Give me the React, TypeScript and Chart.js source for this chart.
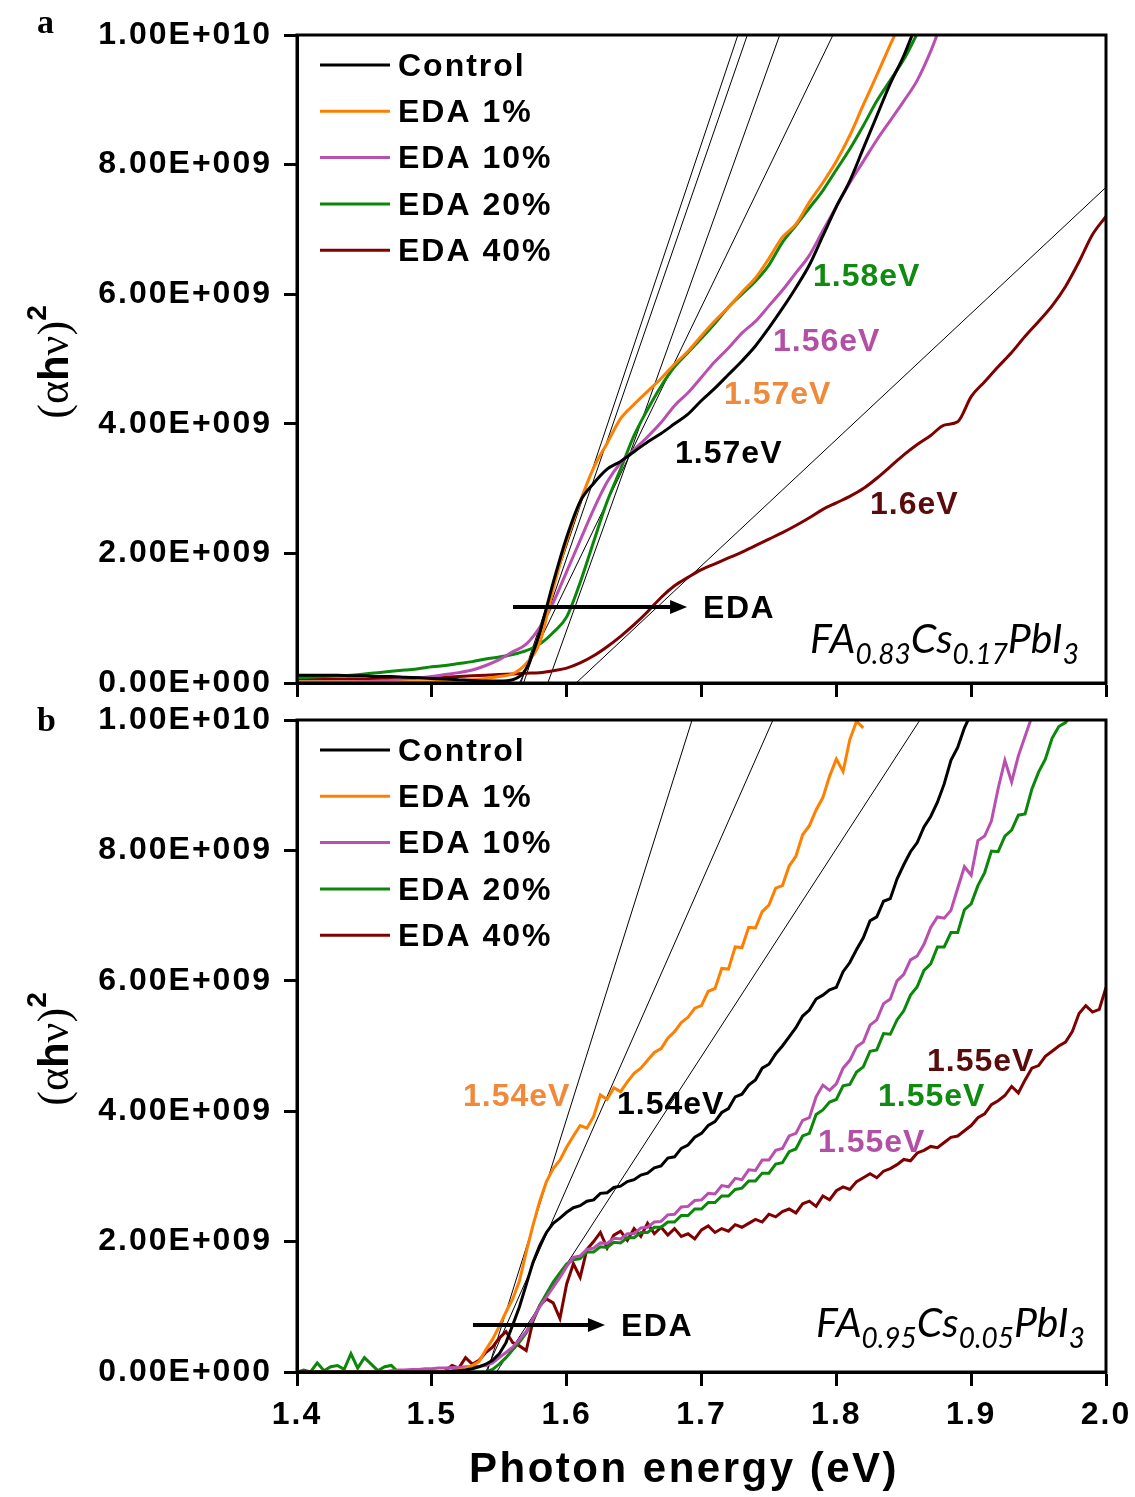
import React, { useEffect, useRef } from "react";
import { Chart, registerables } from "chart.js";

Chart.register(...registerables);

const SANS = "'Liberation Sans', Arial, sans-serif";
const SERIF = "'Liberation Serif', 'Times New Roman', serif";
const ITALIC = "Lato, 'Open Sans', sans-serif";

const seriesNames = ["Control", "EDA 1%", "EDA 10%", "EDA 20%", "EDA 40%"];
const seriesColors = ["#000000", "#ff7f00", "#b94fb1", "#0b870b", "#7f0000"];
const labelColors = ["#000000", "#ef8a3c", "#b44fa6", "#118a11", "#5a0c0c"];

// photon energy grids (eV)
const energyA = Array.from({ length: 61 }, (_, i) => (140 + i) / 100); // 0.01 eV
const energyB = Array.from({ length: 121 }, (_, i) => (1400 + 5 * i) / 1000); // 0.005 eV

// panel a, (αhν)² in units of 1e9, one row per 0.1 eV
const controlA = [
  0.12, 0.12, 0.12, 0.12, 0.11, 0.11, 0.1, 0.1, 0.09, 0.08,
  0.07, 0.06, 0.05, 0.04, 0.03, 0.03, 0.05, 0.22, 0.78, 1.55,
  2.25, 2.8, 3.08, 3.3, 3.42, 3.57, 3.72, 3.85, 4.0, 4.15,
  4.36, 4.55, 4.76, 4.97, 5.2, 5.48, 5.78, 6.1, 6.45, 6.9,
  7.35, 7.75, 8.25, 8.75, 9.25, 9.68, 10.2, null, null, null,
  null, null, null, null, null, null, null, null, null, null,
  null,
];
const eda1A = [
  0.01, 0.01, 0.01, 0.01, 0.01, 0.01, 0.01, 0.01, 0.02, 0.02,
  0.02, 0.03, 0.04, 0.05, 0.07, 0.1, 0.14, 0.3, 0.62, 1.45,
  2.19, 2.8, 3.32, 3.7, 4.08, 4.3, 4.5, 4.7, 4.92, 5.12,
  5.36, 5.59, 5.8, 6.03, 6.25, 6.55, 6.88, 7.08, 7.42, 7.72,
  8.05, 8.45, 8.92, 9.38, 9.85, 10.3, null, null, null, null,
  null, null, null, null, null, null, null, null, null, null,
  null,
];
const eda10A = [
  0, 0, 0, 0, 0.01, 0.02, 0.03, 0.04, 0.06, 0.08,
  0.1, 0.13, 0.16, 0.2, 0.27, 0.36, 0.48, 0.6, 0.86, 1.24,
  1.72, 2.2, 2.68, 3.1, 3.4, 3.6, 3.8, 4.02, 4.28, 4.48,
  4.72, 4.96, 5.17, 5.4, 5.58, 5.82, 6.06, 6.33, 6.6, 6.98,
  7.35, 7.72, 8.05, 8.38, 8.68, 8.98, 9.3, 9.75, 10.3, null,
  null, null, null, null, null, null, null, null, null, null,
  null,
];
const eda20A = [
  0.08, 0.09, 0.1, 0.11, 0.12, 0.14, 0.16, 0.18, 0.2, 0.22,
  0.25, 0.27, 0.3, 0.33, 0.37, 0.4, 0.44, 0.5, 0.6, 0.78,
  1.02, 1.55, 2.18, 2.8, 3.3, 3.82, 4.22, 4.58, 4.88, 5.1,
  5.32, 5.55, 5.8, 6.0, 6.2, 6.45, 6.8, 7.06, 7.33, 7.6,
  7.92, 8.24, 8.6, 8.98, 9.3, 9.62, 10.02, 10.4, null, null,
  null, null, null, null, null, null, null, null, null, null,
  null,
];
const eda40A = [
  0.06, 0.06, 0.06, 0.06, 0.06, 0.06, 0.07, 0.07, 0.07, 0.08,
  0.08, 0.09, 0.1, 0.11, 0.12, 0.13, 0.14, 0.15, 0.16, 0.19,
  0.23, 0.31, 0.42, 0.56, 0.72, 0.9, 1.1, 1.32, 1.5, 1.63,
  1.75, 1.84, 1.93, 2.02, 2.12, 2.22, 2.32, 2.43, 2.55, 2.68,
  2.78, 2.88, 3.0, 3.16, 3.34, 3.52, 3.68, 3.82, 3.98, 4.03,
  4.42, 4.65, 4.88, 5.1, 5.35, 5.58, 5.82, 6.12, 6.5, 6.92,
  7.2,
];

// panel b, (αhν)² in units of 1e9, one row per 0.05 eV
const controlB = [
  0, 0, 0, 0, 0, 0, 0, 0, 0, 0,
  0, 0, 0, 0, 0, 0, 0, 0, 0, 0,
  0, 0, 0, 0.01, 0.02, 0.03, 0.05, 0.08, 0.12, 0.18,
  0.28, 0.45, 0.72, 1.0, 1.34, 1.68, 1.94, 2.14, 2.28, 2.36,
  2.45, 2.52, 2.55, 2.62, 2.64, 2.74, 2.75, 2.83, 2.85, 2.92,
  2.95, 3.02, 3.05, 3.13, 3.16, 3.28, 3.3, 3.43, 3.48, 3.6,
  3.66, 3.78, 3.84, 3.98, 4.04, 4.22, 4.26, 4.4, 4.48, 4.66,
  4.72, 4.88, 5.0, 5.14, 5.28, 5.46, 5.55, 5.72, 5.78, 5.86,
  5.9, 6.14, 6.28, 6.48, 6.66, 6.92, 6.98, 7.22, 7.26, 7.56,
  7.78, 7.98, 8.12, 8.36, 8.52, 8.74, 9.02, 9.38, 9.58, 9.88,
  10.1, null, null, null, null, null, null, null, null, null,
  null, null, null, null, null, null, null, null, null, null,
  null,
];
const eda1B = [
  0, 0, 0, 0, 0, 0, 0, 0, 0, 0,
  0, 0, 0, 0, 0, 0, 0, 0, 0, 0,
  0, 0, 0.01, 0.02, 0.03, 0.06, 0.1, 0.16, 0.34, 0.5,
  0.7, 0.92, 1.12, 1.4, 1.84, 2.25, 2.62, 2.92, 3.12, 3.25,
  3.45, 3.62, 3.78, 3.74, 3.92, 4.25, 4.18, 4.36, 4.3, 4.45,
  4.58, 4.66, 4.78, 4.9, 4.96, 5.12, 5.22, 5.36, 5.44, 5.58,
  5.62, 5.84, 5.88, 6.19, 6.18, 6.52, 6.51, 6.82, 6.81, 7.06,
  7.16, 7.42, 7.46, 7.76, 7.91, 8.24, 8.38, 8.62, 8.81, 9.14,
  9.4, 9.21, 9.7, 9.98, 9.88, null, null, null, null, null,
  null, null, null, null, null, null, null, null, null, null,
  null, null, null, null, null, null, null, null, null, null,
  null, null, null, null, null, null, null, null, null, null,
  null,
];
const eda10B = [
  0, 0, 0, 0, 0, 0, 0, 0, 0, 0,
  0, 0, 0, 0, 0.02, 0.03, 0.03, 0.04, 0.04, 0.05,
  0.05, 0.06, 0.06, 0.07, 0.07, 0.08, 0.08, 0.09, 0.1, 0.14,
  0.22, 0.3, 0.38, 0.5, 0.62, 0.82, 1.0, 1.15, 1.3, 1.45,
  1.62, 1.76, 1.78, 1.88, 1.9, 1.98, 1.97, 2.05, 2.04, 2.12,
  2.12, 2.21, 2.22, 2.3, 2.31, 2.41, 2.42, 2.53, 2.54, 2.63,
  2.64, 2.74, 2.73, 2.86, 2.84, 2.97, 2.95, 3.1, 3.09, 3.25,
  3.25, 3.4, 3.43, 3.62, 3.66, 3.86, 3.9, 4.22, 4.4, 4.32,
  4.42, 4.66, 4.78, 4.99, 5.06, 5.32, 5.4, 5.65, 5.72, 6.0,
  6.1, 6.32, 6.38, 6.56, 6.82, 6.98, 6.96, 7.08, 7.42, 7.75,
  7.62, 8.15, 8.22, 8.45, 8.95, 9.38, 9.05, 9.45, 9.75, 10.05,
  null, null, null, null, null, null, null, null, null, null,
  null,
];
const eda20B = [
  0, 0.03, 0, 0.14, 0.02, 0.08, 0.1, 0.04, 0.28, 0.06,
  0.22, 0.12, 0.02, 0.08, 0.1, 0, 0, 0, 0, 0,
  0, 0, 0, 0, 0, 0, 0, 0, 0, 0.04,
  0.12, 0.22, 0.34, 0.46, 0.6, 0.8, 1.02, 1.2, 1.38, 1.52,
  1.66, 1.72, 1.74, 1.84, 1.84, 1.92, 1.91, 1.99, 1.98, 2.06,
  2.06, 2.14, 2.14, 2.22, 2.22, 2.3, 2.3, 2.4, 2.4, 2.5,
  2.5, 2.6, 2.6, 2.7, 2.7, 2.8, 2.82, 2.93, 2.93, 3.05,
  3.05, 3.19, 3.21, 3.38, 3.42, 3.62, 3.66, 3.95, 4.02, 4.14,
  4.18, 4.39, 4.41, 4.6, 4.68, 4.92, 4.94, 5.19, 5.18, 5.4,
  5.54, 5.78, 5.91, 6.16, 6.26, 6.52, 6.52, 6.74, 6.74, 7.09,
  7.18, 7.46, 7.66, 7.99, 7.98, 8.22, 8.31, 8.54, 8.56, 8.94,
  9.2, 9.4, 9.72, 9.9, 9.96, 10.1, null, null, null, null,
  null,
];
const eda40B = [
  null, null, null, null, null, null, null, null, null, null,
  null, null, null, null, null, null, null, null, null, null,
  null, null, 0.02, 0.1, 0.06, 0.22, 0.12, 0.18, 0.3, 0.38,
  0.52, 0.62, 0.45, 0.4, 0.33, 0.78, 1.02, 1.12, 1.06, 0.82,
  1.35, 1.66, 1.45, 1.88, 2.0, 2.14, 1.9, 2.1, 2.16, 2.02,
  2.2, 2.08, 2.28, 2.12, 2.22, 2.1, 2.2, 2.08, 2.12, 2.04,
  2.18, 2.24, 2.14, 2.2, 2.16, 2.26, 2.22, 2.28, 2.34, 2.3,
  2.42, 2.38, 2.46, 2.5, 2.44, 2.58, 2.62, 2.54, 2.7, 2.64,
  2.78, 2.84, 2.8, 2.92, 2.98, 3.04, 2.98, 3.08, 3.12, 3.18,
  3.26, 3.24, 3.36, 3.4, 3.46, 3.44, 3.52, 3.6, 3.62, 3.7,
  3.78, 3.9, 3.96, 4.1, 4.16, 4.24, 4.38, 4.28, 4.48, 4.66,
  4.7, 4.84, 4.92, 5.0, 5.06, 5.22, 5.5, 5.62, 5.52, 5.56,
  5.9,
];

// linear fits: x-intercept (band gap), end point of the drawn line
const fitGapA = [1.566, 1.568, 1.565, 1.586, 1.607];
const fitEndA = [1.727, 1.734, 1.7975, 1.758, 2.0];
const fitEndValA = [10, 10, 10, 10, 7.65];
const fitGapB = [1.54, 1.541, 1.548];
const fitEndB = [1.753, 1.693, 1.862];
const fitEndValB = [10, 10, 10];

// band gap labels per series, anchored at [energy, value]
const gapTextA = ["1.57eV", "1.57eV", "1.56eV", "1.58eV", "1.6eV"];
const gapPosA = [[1.6804, 3.565], [1.7167, 4.475], [1.753, 5.29], [1.7827, 6.3], [1.825, 2.78]];
const gapTextB = ["1.54eV", "1.54eV", "1.55eV", "1.55eV", "1.55eV"];
const gapPosB = [[1.6373, 4.13], [1.5231, 4.25], [1.7864, 3.54], [1.8309, 4.25], [1.8672, 4.785]];

const formulaA = ["FA", "0.83", "Cs", "0.17", "PbI", "3"];
const formulaB = ["FA", "0.95", "Cs", "0.05", "PbI", "3"];

const sci = (v: number) => {
  if (v === 0) return "0.00E+000";
  const e = Math.floor(Math.log10(v) + 1e-9);
  return (v / Math.pow(10, e)).toFixed(2) + "E+" + String(e).padStart(3, "0");
};

type PanelSpec = {
  energy: number[];
  curves: (number | null)[][];
  smooth: boolean;
  fitGap: number[];
  fitEnd: number[];
  fitEndVal: number[];
  gapText: string[];
  gapPos: number[][];
  arrow: number[];
  formula: string[];
  formulaPos: number[];
  letter: string;
  letterY: number;
  showX: boolean;
  canvasTop: number;
  canvasHeight: number;
  padTop: number;
  xAxisHeight: number;
};

const panelA: PanelSpec = {
  energy: energyA,
  curves: [controlA, eda1A, eda10A, eda20A, eda40A],
  smooth: true,
  fitGap: fitGapA,
  fitEnd: fitEndA,
  fitEndVal: fitEndValA,
  gapText: gapTextA,
  gapPos: gapPosA,
  arrow: [1.5602, 1.6893, 1.173],
  formula: formulaA,
  formulaPos: [1.7805, 0.463],
  letter: "a",
  letterY: 33,
  showX: false,
  canvasTop: 0,
  canvasHeight: 705,
  padTop: 35,
  xAxisHeight: 22,
};

const panelB: PanelSpec = {
  energy: energyB,
  curves: [controlB, eda1B, eda10B, eda20B, eda40B],
  smooth: false,
  fitGap: fitGapB,
  fitEnd: fitEndB,
  fitEndVal: fitEndValB,
  gapText: gapTextB,
  gapPos: gapPosB,
  arrow: [1.5305, 1.6284, 0.72],
  formula: formulaB,
  formulaPos: [1.785, 0.537],
  letter: "b",
  letterY: 31,
  showX: true,
  canvasTop: 700,
  canvasHeight: 797,
  padTop: 20,
  xAxisHeight: 125,
};

const tickFont = { family: SANS, size: 32, weight: "bold" as const };

function Panel({ spec }: { spec: PanelSpec }) {
  const ref = useRef<HTMLCanvasElement>(null);

  useEffect(() => {
    if (!ref.current) return;

    const curves = spec.curves.map((vals, i) => ({
      label: seriesNames[i],
      data: spec.energy.map((e, j) => ({ x: e, y: vals[j] == null ? null : (vals[j] as number) * 1e9 })),
      borderColor: seriesColors[i],
      borderWidth: 3,
      pointRadius: 0,
      fill: false,
      tension: 0,
      cubicInterpolationMode: spec.smooth ? "monotone" : "default",
    }));
    const fits = spec.fitGap.map((g, i) => ({
      label: "fit",
      data: [
        { x: g, y: 0 },
        { x: spec.fitEnd[i], y: spec.fitEndVal[i] * 1e9 },
      ],
      borderColor: "#000000",
      borderWidth: 1,
      pointRadius: 0,
      fill: false,
    }));

    const decor = {
      id: "decor",
      beforeDraw(chart: any) {
        chart.ctx.letterSpacing = "2px";
      },
      afterDraw(chart: any) {
        const { ctx, chartArea: a, scales } = chart;
        const px = (e: number) => scales.x.getPixelForValue(e);
        const py = (v: number) => scales.y.getPixelForValue(v * 1e9);
        ctx.save();

        // frame
        ctx.strokeStyle = "#000";
        ctx.lineWidth = 3;
        ctx.strokeRect(a.left, a.top, a.right - a.left, a.bottom - a.top);

        // legend
        ctx.font = `bold 32px ${SANS}`;
        ctx.textAlign = "left";
        ctx.textBaseline = "middle";
        ctx.letterSpacing = "2px";
        seriesNames.forEach((name, i) => {
          const y = a.top + 30 + i * 46.3;
          ctx.strokeStyle = seriesColors[i];
          ctx.lineWidth = 3;
          ctx.beginPath();
          ctx.moveTo(a.left + 23, y);
          ctx.lineTo(a.left + 93, y);
          ctx.stroke();
          ctx.fillStyle = "#000";
          ctx.fillText(name, a.left + 101, y + 2);
        });

        // band gap labels
        ctx.letterSpacing = "1px";
        spec.gapText.forEach((t, i) => {
          ctx.fillStyle = labelColors[i];
          ctx.fillText(t, px(spec.gapPos[i][0]), py(spec.gapPos[i][1]) + 2);
        });

        // arrow + EDA
        const [e1, e2, av] = spec.arrow;
        const ay = py(av);
        const x1 = px(e1);
        const x2 = px(e2);
        ctx.strokeStyle = "#000";
        ctx.fillStyle = "#000";
        ctx.lineWidth = 4;
        ctx.beginPath();
        ctx.moveTo(x1, ay);
        ctx.lineTo(x2 - 14, ay);
        ctx.stroke();
        ctx.beginPath();
        ctx.moveTo(x2, ay);
        ctx.lineTo(x2 - 17, ay - 7);
        ctx.lineTo(x2 - 17, ay + 7);
        ctx.closePath();
        ctx.fill();
        ctx.letterSpacing = "1.5px";
        ctx.fillText("EDA", x2 + 16, ay + 2);

        // composition
        ctx.letterSpacing = "0px";
        ctx.textBaseline = "alphabetic";
        let fx = px(spec.formulaPos[0]);
        const fy = py(spec.formulaPos[1]);
        spec.formula.forEach((p, i) => {
          const sub = i % 2 === 1;
          ctx.font = sub ? `italic 28px ${ITALIC}` : `italic 41px ${ITALIC}`;
          ctx.fillText(p, fx, sub ? fy + 11 : fy);
          fx += ctx.measureText(p).width;
        });

        // y axis title (αhν)²
        const parts = [
          { t: "(", f: `44px ${SERIF}`, r: 0 },
          { t: "α", f: `44px ${SERIF}`, r: 0 },
          { t: "h", f: `bold 42px ${SANS}`, r: 0 },
          { t: "ν", f: `44px ${SERIF}`, r: 0 },
          { t: ")", f: `44px ${SERIF}`, r: 0 },
          { t: "2", f: `bold 28px ${SANS}`, r: 22 },
        ];
        let total = 0;
        parts.forEach((p) => {
          ctx.font = p.f;
          total += ctx.measureText(p.t).width;
        });
        ctx.save();
        ctx.translate(68, (a.top + a.bottom) / 2 + 3);
        ctx.rotate(-Math.PI / 2);
        let u = -total / 2;
        parts.forEach((p) => {
          ctx.font = p.f;
          ctx.fillText(p.t, u, -p.r);
          u += ctx.measureText(p.t).width;
        });
        ctx.restore();

        // panel letter
        ctx.font = `bold 34px ${SERIF}`;
        ctx.fillText(spec.letter, 37, spec.letterY);

        // x axis title
        if (spec.showX) {
          ctx.font = `bold 42px ${SANS}`;
          ctx.letterSpacing = "2.5px";
          ctx.textAlign = "center";
          ctx.textBaseline = "middle";
          ctx.fillText("Photon energy (eV)", 684, a.bottom + 98);
        }
        ctx.restore();
      },
    };

    const chart = new Chart(ref.current, {
      type: "line",
      data: { datasets: [...curves, ...fits] as any },
      options: {
        animation: false,
        responsive: false,
        events: [],
        layout: { padding: { top: spec.padTop, right: 29, left: 0, bottom: 0 } },
        plugins: { legend: { display: false }, tooltip: { enabled: false } },
        scales: {
          x: {
            type: "linear",
            min: 1.4,
            max: 2.0,
            afterFit: (s: any) => {
              s.height = spec.xAxisHeight;
              s.paddingLeft = 0;
              s.paddingRight = 0;
            },
            ticks: {
              display: spec.showX,
              stepSize: 0.1,
              autoSkip: false,
              maxRotation: 0,
              padding: 10,
              color: "#000",
              font: tickFont,
              callback: (v: any) => Number(v).toFixed(1),
            },
            grid: { drawOnChartArea: false, drawTicks: true, tickLength: 14, tickWidth: 3, tickColor: "#000", color: "#000" },
            border: { display: true, width: 3, color: "#000" },
          },
          y: {
            min: 0,
            max: 1e10,
            afterFit: (s: any) => {
              s.width = 297;
              s.paddingTop = 0;
              s.paddingBottom = 0;
            },
            ticks: {
              stepSize: 2e9,
              padding: 12,
              color: "#000",
              font: tickFont,
              callback: (v: any) => sci(Number(v)),
            },
            grid: { drawOnChartArea: false, drawTicks: true, tickLength: 13, tickWidth: 3, tickColor: "#000", color: "#000" },
            border: { display: true, width: 3, color: "#000" },
          },
        },
      },
      plugins: [decor],
    } as any);

    return () => {
      chart.destroy();
    };
  }, [spec]);

  return (
    <canvas
      ref={ref}
      width={1135}
      height={spec.canvasHeight}
      style={{ position: "absolute", left: 0, top: spec.canvasTop, width: 1135, height: spec.canvasHeight }}
    />
  );
}

export default function App() {
  return (
    <div style={{ position: "absolute", left: 0, top: 0, width: 1135, height: 1497, background: "#fff" }}>
      <Panel spec={panelA} />
      <Panel spec={panelB} />
    </div>
  );
}
